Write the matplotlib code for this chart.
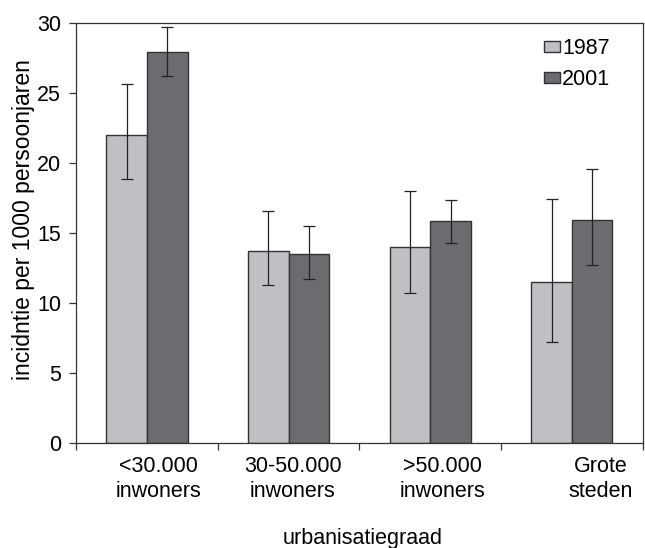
import matplotlib
matplotlib.use("Agg")
import matplotlib.pyplot as plt
import matplotlib.transforms as mtransforms
import numpy as np

plt.rcParams['font.family'] = ['Liberation Sans', 'DejaVu Sans']

# Incidence per 1000 person-years by degree of urbanisation
categories = ["<30.000\ninwoners", "30-50.000\ninwoners", ">50.000\ninwoners", "Grote\nsteden"]
years = ["1987", "2001"]
values_1987 = [22.0, 13.7, 14.0, 11.5]
values_2001 = [27.9, 13.5, 15.8, 15.9]
# confidence interval bounds
low_1987 = [18.8, 11.25, 10.7, 7.15]
high_1987 = [25.6, 16.55, 18.0, 17.4]
low_2001 = [26.2, 11.7, 14.25, 12.7]
high_2001 = [29.7, 15.45, 17.3, 19.55]

yticks = [0, 5, 10, 15, 20, 25, 30]
xlabel = "urbanisatiegraad"
ylabel = "incidntie per 1000 persoonjaren"

color_1987 = "#bfc0c4"
color_2001 = "#6b6c70"
edge = "#333333"
fs = 15.5

fig = plt.figure(figsize=(6.45, 5.48), dpi=100)
ax = fig.add_axes([0.1183, 0.1925, 0.878, 0.7664])

x = np.arange(len(categories))
w = 0.287

def err(vals, lo, hi):
    v = np.array(vals)
    return np.vstack([v - np.array(lo), np.array(hi) - v])

ekw = dict(ecolor="#222222", elinewidth=0.9, capsize=4.2, capthick=0.9)
ax.bar(x - w / 2, values_1987, w, color=color_1987, edgecolor=edge, linewidth=1.0,
       yerr=err(values_1987, low_1987, high_1987), error_kw=ekw, label=years[0], zorder=2)
ax.bar(x + w / 2, values_2001, w, color=color_2001, edgecolor=edge, linewidth=1.0,
       yerr=err(values_2001, low_2001, high_2001), error_kw=ekw, label=years[1], zorder=2)

ax.set_xlim(-0.5, len(categories) - 0.5)
ax.set_ylim(0, 30)
ax.set_yticks(yticks)
ax.tick_params(axis='y', labelsize=fs, length=5, width=0.9, color=edge, pad=6)

# boundaries get tick marks, category centres get the labels
ax.set_xticks(np.arange(len(categories) + 1) - 0.5)
ax.set_xticklabels([])
ax.set_xticks(x, minor=True)
ax.set_xticklabels(categories, minor=True, fontsize=fs, linespacing=1.2)
ax.tick_params(axis='x', which='major', length=5, width=0.9, color=edge)
ax.tick_params(axis='x', which='minor', length=0, pad=10)

shifts = [11, 4, 12, 29]
for lab, dx in zip(ax.get_xticklabels(minor=True), shifts):
    lab.set_transform(lab.get_transform() +
                      mtransforms.ScaledTranslation(dx / 100, 0, fig.dpi_scale_trans))

for s in ax.spines.values():
    s.set_color(edge)
    s.set_linewidth(0.9)

ax.set_xlabel(xlabel, fontsize=fs)
ax.xaxis.set_label_coords(0.506, -0.203)
ax.set_ylabel(ylabel, fontsize=16.5)
ax.yaxis.set_label_coords(-0.073, 0.53)

leg = ax.legend(loc='upper left', bbox_to_anchor=(0.826, 0.962), frameon=False,
                fontsize=fs, handlelength=0.72, handleheight=0.42, handletextpad=0.12,
                labelspacing=0.45, borderpad=0, borderaxespad=0)

fig.savefig("out.png", dpi=100)
